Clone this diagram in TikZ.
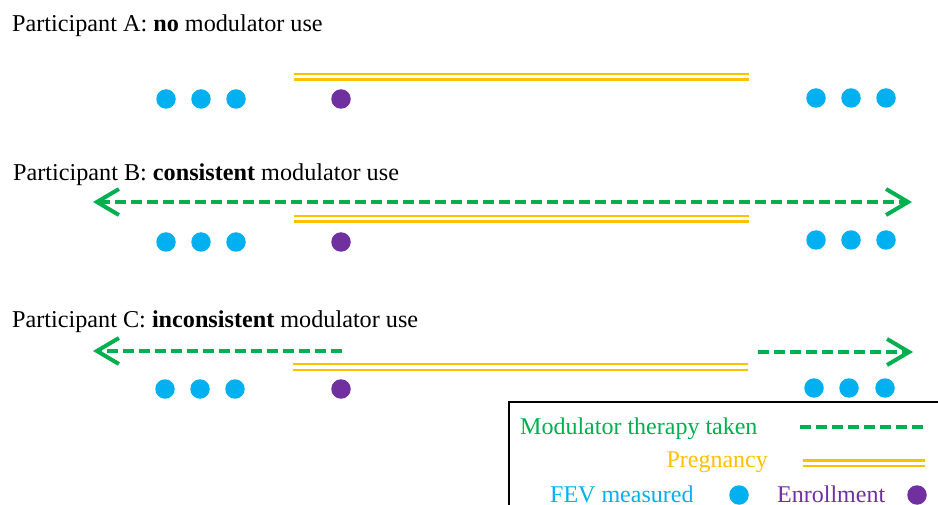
\documentclass[tikz,border=0pt]{standalone}
\usepackage{fontspec}
\setmainfont{Liberation Serif}
\usetikzlibrary{arrows.meta}
\definecolor{mgreen}{HTML}{00B050}
\definecolor{mgold}{HTML}{FFC000}
\definecolor{mblue}{HTML}{00B0F0}
\definecolor{mpurple}{HTML}{7030A0}
\begin{document}
\begin{tikzpicture}[x=1pt,y=-1pt,
  title/.style={anchor=base west,inner sep=0pt,font=\fontsize{24.2}{28}\selectfont},
  ltext/.style={inner sep=0pt,font=\fontsize{24}{28}\selectfont},
  fev/.style={circle,fill=mblue,draw=none,minimum size=19.5pt,inner sep=0pt},
  enr/.style={circle,fill=mpurple,draw=none,minimum size=19.5pt,inner sep=0pt},
  preg/.style={draw=mgold,line width=2.6pt,double=white,double distance=3pt},
  modu/.style={draw=mgreen,line width=3.8pt,dash pattern=on 11pt off 5pt},
  barb/.tip={Straight Barb[length=22pt,width=26pt,line width=4pt,sharp]},
  tip/.style={-barb}
]
\useasboundingbox (0,0) rectangle (938,505);
% Participant A
\node[title] (tA) at (12,32) {Participant A: \textbf{no} modulator use};
\coordinate (pA1) at (294,77); \coordinate (pA2) at (749,77);
\draw[preg] (pA1) -- (pA2);
\node[fev] (a1) at (166,99) {}; \node[fev] (a2) at (201,99) {}; \node[fev] (a3) at (236,99) {};
\node[enr] (ae) at (341,99) {};
\node[fev] (a4) at (816,98) {}; \node[fev] (a5) at (851,98) {}; \node[fev] (a6) at (886,98) {};
% Participant B
\node[title] (tB) at (13,181) {Participant B: \textbf{consistent} modulator use};
\coordinate (mB1) at (93,202); \coordinate (mB2) at (912,202);
\draw[modu,barb-barb] (mB1) -- (mB2);
\coordinate (pB1) at (294,219); \coordinate (pB2) at (749,219);
\draw[preg] (pB1) -- (pB2);
\node[fev] (b1) at (166,242) {}; \node[fev] (b2) at (201,242) {}; \node[fev] (b3) at (236,242) {};
\node[enr] (be) at (341,242) {};
\node[fev] (b4) at (816,240) {}; \node[fev] (b5) at (851,240) {}; \node[fev] (b6) at (886,240) {};
% Participant C
\node[title] (tC) at (12,328) {Participant C: \textbf{inconsistent} modulator use};
\coordinate (mC1) at (342,351); \coordinate (mC2) at (93,351);
\draw[modu,tip] (mC1) -- (mC2);
\coordinate (mC3) at (758,352); \coordinate (mC4) at (913,352);
\draw[modu,tip] (mC3) -- (mC4);
\coordinate (pC1) at (293,367); \coordinate (pC2) at (748,367);
\draw[preg] (pC1) -- (pC2);
\node[fev] (c1) at (165,389) {}; \node[fev] (c2) at (200,389) {}; \node[fev] (c3) at (235,389) {};
\node[enr] (ce) at (341,389) {};
\node[fev] (c4) at (814,388) {}; \node[fev] (c5) at (849,388) {}; \node[fev] (c6) at (885,388) {};
% Legend
\draw[line width=2.2pt] (940,402) -| (509,507);
\node[ltext,anchor=base west,text=mgreen] (lm) at (520,434) {Modulator therapy taken};
\coordinate (lm1) at (800,427); \coordinate (lm2) at (923,427);
\draw[modu] (lm1) -- (lm2);
\node[ltext,anchor=base east,text=mgold] (lp) at (768,467) {Pregnancy};
\coordinate (lp1) at (803,463); \coordinate (lp2) at (925,463);
\draw[preg] (lp1) -- (lp2);
\node[ltext,anchor=base west,text=mblue] (lf) at (550,502) {FEV measured};
\node[fev] (lfd) at (739,495) {};
\node[ltext,anchor=base west,text=mpurple] (le) at (777,502) {Enrollment};
\node[enr] (led) at (917,495) {};
\end{tikzpicture}
\end{document}
